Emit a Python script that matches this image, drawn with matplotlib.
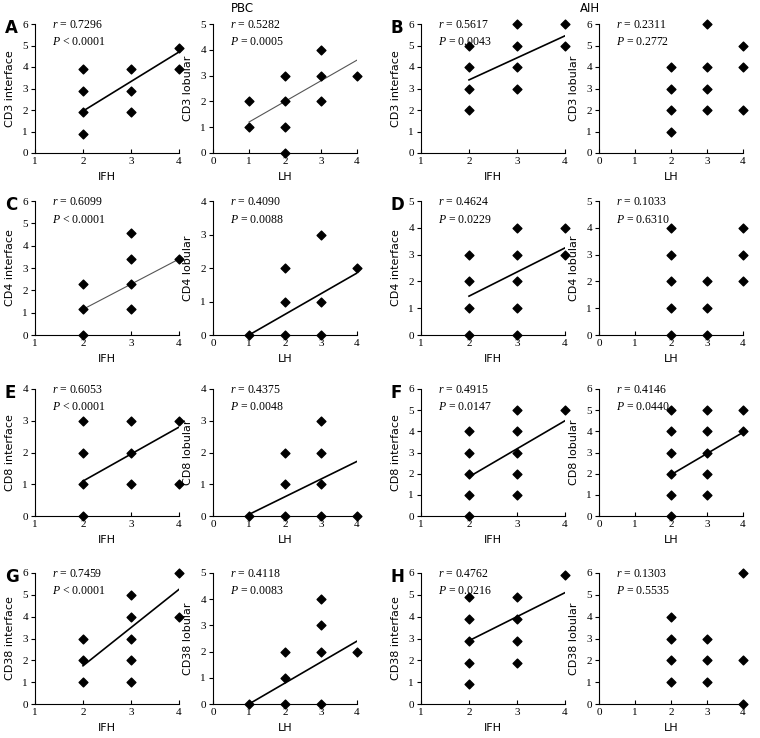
import matplotlib
matplotlib.use("Agg")
import matplotlib.pyplot as plt

plt.rcParams["mathtext.fontset"] = "custom"
plt.rcParams["mathtext.rm"] = "Liberation Serif"
plt.rcParams["mathtext.it"] = "Liberation Serif:italic"

# ---- data ----
# PBC, IFH vs interface / LH vs lobular
cd3_pbc_int_x = [2, 2, 2, 2, 3, 3, 3, 4, 4]
cd3_pbc_int_y = [0.9, 1.9, 2.9, 3.9, 1.9, 2.9, 3.9, 3.9, 4.9]
cd3_pbc_lob_x = [1, 1, 2, 2, 2, 2, 3, 3, 3, 4]
cd3_pbc_lob_y = [1, 2, 0, 1, 2, 3, 2, 3, 4, 3]
cd4_pbc_int_x = [2, 2, 2, 3, 3, 3, 3, 4]
cd4_pbc_int_y = [0, 1.15, 2.3, 1.15, 2.3, 3.4, 4.55, 3.4]
cd4_pbc_lob_x = [1, 2, 2, 2, 3, 3, 3, 4]
cd4_pbc_lob_y = [0, 0, 1, 2, 0, 1, 3, 2]
cd8_pbc_int_x = [2, 2, 2, 2, 3, 3, 3, 4, 4]
cd8_pbc_int_y = [0, 1, 2, 3, 1, 2, 3, 1, 3]
cd8_pbc_lob_x = [1, 2, 2, 2, 3, 3, 3, 3, 4]
cd8_pbc_lob_y = [0, 0, 1, 2, 0, 1, 2, 3, 0]
cd38_pbc_int_x = [2, 2, 2, 3, 3, 3, 3, 3, 4, 4]
cd38_pbc_int_y = [1, 2, 3, 1, 2, 3, 4, 5, 4, 6]
cd38_pbc_lob_x = [1, 2, 2, 2, 3, 3, 3, 3, 4]
cd38_pbc_lob_y = [0, 0, 1, 2, 0, 2, 3, 4, 2]

# AIH
cd3_aih_int_x = [2, 2, 2, 2, 3, 3, 3, 3, 4, 4]
cd3_aih_int_y = [2, 3, 4, 5, 3, 4, 5, 6, 5, 6]
cd3_aih_lob_x = [2, 2, 2, 2, 3, 3, 3, 3, 4, 4, 4]
cd3_aih_lob_y = [1, 2, 3, 4, 2, 3, 4, 6, 2, 4, 5]
cd4_aih_int_x = [2, 2, 2, 2, 3, 3, 3, 3, 3, 4, 4]
cd4_aih_int_y = [0, 1, 2, 3, 0, 1, 2, 3, 4, 3, 4]
cd4_aih_lob_x = [2, 2, 2, 2, 2, 3, 3, 3, 4, 4, 4]
cd4_aih_lob_y = [0, 1, 2, 3, 4, 0, 1, 2, 2, 3, 4]
cd8_aih_int_x = [2, 2, 2, 2, 2, 3, 3, 3, 3, 3, 4]
cd8_aih_int_y = [0, 1, 2, 3, 4, 1, 2, 3, 4, 5, 5]
cd8_aih_lob_x = [2, 2, 2, 2, 2, 2, 3, 3, 3, 3, 3, 4, 4]
cd8_aih_lob_y = [0, 1, 2, 3, 4, 5, 1, 2, 3, 4, 5, 4, 5]
cd38_aih_int_x = [2, 2, 2, 2, 2, 3, 3, 3, 3, 4]
cd38_aih_int_y = [0.9, 1.9, 2.9, 3.9, 4.9, 1.9, 2.9, 3.9, 4.9, 5.9]
cd38_aih_lob_x = [2, 2, 2, 2, 3, 3, 3, 4, 4, 4]
cd38_aih_lob_y = [1, 2, 3, 4, 1, 2, 3, 0, 2, 6]

# r / P values, row by row, left to right
r_vals = ["0.7296", "0.5282", "0.5617", "0.2311",
          "0.6099", "0.4090", "0.4624", "0.1033",
          "0.6053", "0.4375", "0.4915", "0.4146",
          "0.7459", "0.4118", "0.4762", "0.1303"]
p_vals = ["< 0.0001", "= 0.0005", "= 0.0043", "= 0.2772",
          "< 0.0001", "= 0.0088", "= 0.0229", "= 0.6310",
          "< 0.0001", "= 0.0048", "= 0.0147", "= 0.0440",
          "< 0.0001", "= 0.0083", "= 0.0216", "= 0.5535"]

# regression line end points (None = no line drawn)
fit_lines = [((2, 4), (1.95, 4.7)), ((1, 4), (1.2, 3.6)), ((2, 4), (3.4, 5.45)), None,
             ((2, 4), (1.15, 3.4)), ((1, 4), (0, 1.85)), ((2, 4), (1.45, 3.25)), None,
             ((2, 4), (1.1, 2.8)), ((1, 4), (0.05, 1.72)), ((2, 4), (1.85, 4.5)), ((2, 4), (1.95, 3.95)),
             ((2, 4), (1.75, 5.25)), ((1, 4), (0, 2.4)), ((2, 4), (2.9, 5.1)), None]
fit_gray = [False, True, False, False,
            True, False, False, False,
            False, False, False, False,
            False, False, False, False]

y_tops = [6, 5, 6, 6,
          6, 4, 5, 5,
          4, 4, 6, 6,
          6, 5, 6, 6]
markers = ["CD3", "CD4", "CD8", "CD38"]
letters = [("A", "B"), ("C", "D"), ("E", "F"), ("G", "H")]

points = [
    (cd3_pbc_int_x, cd3_pbc_int_y), (cd3_pbc_lob_x, cd3_pbc_lob_y),
    (cd3_aih_int_x, cd3_aih_int_y), (cd3_aih_lob_x, cd3_aih_lob_y),
    (cd4_pbc_int_x, cd4_pbc_int_y), (cd4_pbc_lob_x, cd4_pbc_lob_y),
    (cd4_aih_int_x, cd4_aih_int_y), (cd4_aih_lob_x, cd4_aih_lob_y),
    (cd8_pbc_int_x, cd8_pbc_int_y), (cd8_pbc_lob_x, cd8_pbc_lob_y),
    (cd8_aih_int_x, cd8_aih_int_y), (cd8_aih_lob_x, cd8_aih_lob_y),
    (cd38_pbc_int_x, cd38_pbc_int_y), (cd38_pbc_lob_x, cd38_pbc_lob_y),
    (cd38_aih_int_x, cd38_aih_int_y), (cd38_aih_lob_x, cd38_aih_lob_y),
]

# ---- layout (pixels of the 760x738 picture) ----
W, H = 760, 738
col_left = [35, 213, 421, 599]
col_width = 144
row_px = [(153, 24), (335, 201), (516, 389), (704, 573)]  # (bottom, top)

SERIF = "Liberation Serif"
SANS = "DejaVu Sans"

fig = plt.figure(figsize=(W / 100, H / 100), dpi=100)

for row in range(4):
    bot, top = row_px[row]
    for col in range(4):
        k = row * 4 + col
        ax = fig.add_axes([col_left[col] / W, 1 - bot / H, col_width / W, (bot - top) / H])
        lobular = col in (1, 3)
        xs, ys = points[k]

        ax.scatter(xs, ys, marker="D", s=20, color="black", zorder=3, clip_on=False)

        if fit_lines[k] is not None:
            fx, fy = fit_lines[k]
            if fit_gray[k]:
                ax.plot(fx, fy, color="#555555", lw=0.8, zorder=2)
            else:
                ax.plot(fx, fy, color="black", lw=1.2, zorder=2)

        ax.set_xlim(0 if lobular else 1, 4)
        ax.set_ylim(0, y_tops[k])
        ax.set_xticks(range(0 if lobular else 1, 5))
        ax.set_yticks(range(0, y_tops[k] + 1))
        ax.spines["top"].set_visible(False)
        ax.spines["right"].set_visible(False)
        ax.spines["left"].set_linewidth(0.8)
        ax.spines["bottom"].set_linewidth(0.8)
        ax.tick_params(axis="y", direction="out", length=3, width=0.8, pad=2)
        ax.tick_params(axis="x", direction="in", length=3, width=0.8, pad=3)
        for lab in ax.get_xticklabels() + ax.get_yticklabels():
            lab.set_fontfamily(SERIF)
            lab.set_fontsize(8)

        ax.set_xlabel("LH" if lobular else "IFH", fontsize=8, family=SANS, labelpad=4)
        ax.set_ylabel(markers[row] + (" lobular" if lobular else " interface"),
                      fontsize=8, family=SANS, labelpad=5)

        ax.text(0.12, 0.99, r"$r$ = " + r_vals[k], transform=ax.transAxes,
                fontsize=8.5, family=SERIF, va="center", ha="left")
        ax.text(0.12, 0.86, r"$P$ " + p_vals[k], transform=ax.transAxes,
                fontsize=8.5, family=SERIF, va="center", ha="left")

        if col in (0, 2):
            letter = letters[row][col // 2]
            fig.text((col_left[col] - 30) / W, 1 - (top + 4) / H, letter,
                     fontsize=12, fontweight="bold", family=SANS, va="center", ha="left")

fig.text(242 / W, 1 - 9 / H, "PBC", fontsize=8.5, family=SANS, ha="center", va="center")
fig.text(590 / W, 1 - 9 / H, "AIH", fontsize=8.5, family=SANS, ha="center", va="center")

fig.savefig("out.png", dpi=100)
